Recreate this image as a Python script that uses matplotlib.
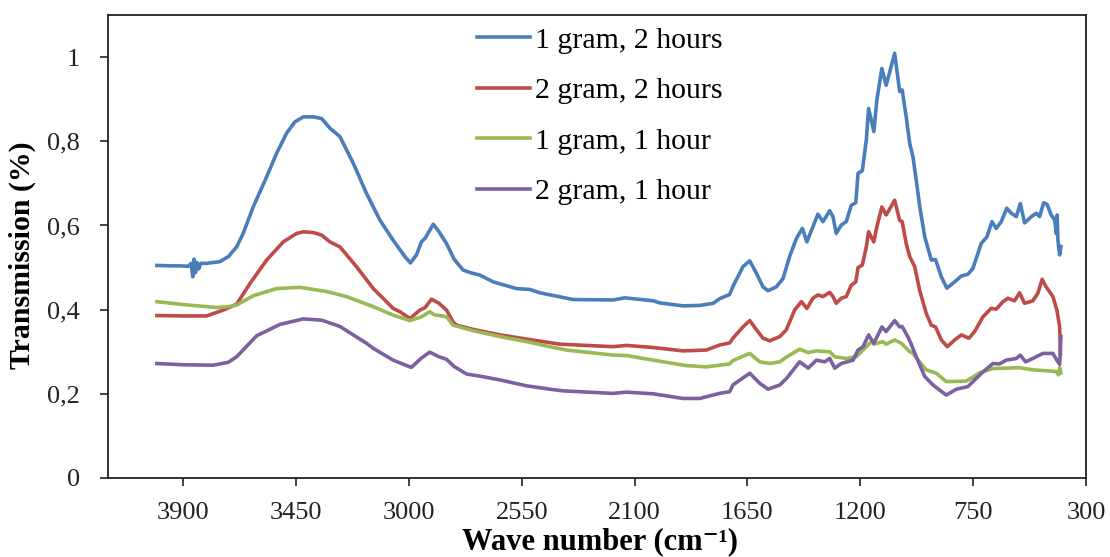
import numpy as np
import matplotlib
matplotlib.use("Agg")
import matplotlib.pyplot as plt
from matplotlib.ticker import FuncFormatter

plt.rcParams['font.family'] = ['Liberation Serif', 'DejaVu Serif']

# FTIR spectra (wave number in cm-1, transmission)
blue_wn = [4005, 3950, 3913, 3880, 3868, 3862, 3857, 3851, 3845, 3838, 3830, 3807, 3754, 3720, 3687,
           3661, 3621, 3567, 3528, 3488, 3455, 3421, 3380, 3348, 3315, 3275, 3222, 3169, 3116, 3063,
           3016, 2994, 2970, 2950, 2935, 2903, 2880, 2850, 2820, 2784, 2750, 2717, 2664, 2571, 2518,
           2478, 2385, 2345, 2186, 2139, 2026, 2000, 1907, 1840, 1787, 1761, 1721, 1708, 1668, 1641,
           1614, 1588, 1568, 1535, 1508, 1482, 1455, 1431, 1413, 1389, 1369, 1349, 1322, 1309, 1296,
           1276, 1256, 1236, 1218, 1209, 1192, 1176, 1167, 1156, 1146, 1134, 1114, 1097, 1081, 1063,
           1043, 1033, 1017, 1003, 990, 977, 963, 943, 917, 900, 877, 855, 824, 797, 771,
           751, 718, 695, 675, 658, 638, 616, 598, 578, 562, 545, 518, 498, 485, 469,
           455, 439, 425, 418, 415, 412, 405, 400]
blue_t = [0.505, 0.504, 0.504, 0.503, 0.510, 0.478, 0.520, 0.488, 0.512, 0.497, 0.510, 0.510, 0.514, 0.526, 0.549,
          0.581, 0.644, 0.716, 0.771, 0.819, 0.846, 0.858, 0.858, 0.854, 0.831, 0.811, 0.748, 0.676, 0.613, 0.565,
          0.526, 0.511, 0.530, 0.561, 0.570, 0.603, 0.585, 0.557, 0.520, 0.494, 0.487, 0.482, 0.466, 0.450, 0.448,
          0.440, 0.429, 0.424, 0.423, 0.428, 0.421, 0.416, 0.409, 0.410, 0.415, 0.426, 0.436, 0.455, 0.502, 0.516,
          0.486, 0.454, 0.445, 0.454, 0.474, 0.526, 0.569, 0.593, 0.561, 0.597, 0.627, 0.609, 0.635, 0.621, 0.581,
          0.601, 0.609, 0.648, 0.654, 0.724, 0.730, 0.803, 0.878, 0.850, 0.823, 0.898, 0.973, 0.933, 0.969, 1.009,
          0.918, 0.922, 0.858, 0.795, 0.763, 0.708, 0.645, 0.573, 0.518, 0.519, 0.478, 0.451, 0.466, 0.480, 0.484,
          0.498, 0.557, 0.573, 0.609, 0.593, 0.609, 0.641, 0.629, 0.621, 0.652, 0.606, 0.621, 0.629, 0.621, 0.654,
          0.650, 0.625, 0.613, 0.580, 0.625, 0.565, 0.530, 0.550]

red_wn = [4005, 3900, 3807, 3740, 3687, 3634, 3567, 3501, 3448, 3421, 3380, 3348, 3315, 3275, 3209,
          3142, 3063, 3036, 2996, 2956, 2935, 2910, 2880, 2850, 2824, 2810, 2744, 2637, 2531, 2398,
          2186, 2133, 2026, 1907, 1814, 1761, 1721, 1708, 1668, 1641, 1614, 1588, 1561, 1521, 1495,
          1462, 1435, 1413, 1389, 1369, 1349, 1322, 1309, 1296, 1276, 1256, 1236, 1218, 1209, 1192,
          1176, 1167, 1146, 1134, 1114, 1097, 1081, 1063, 1043, 1033, 1017, 1003, 983, 963, 937,
          917, 900, 877, 853, 824, 797, 767, 744, 711, 678, 658, 631, 611, 585, 565,
          545, 512, 492, 475, 459, 432, 416, 405, 402]
red_t = [0.386, 0.385, 0.385, 0.399, 0.413, 0.462, 0.518, 0.561, 0.581, 0.585, 0.583, 0.577, 0.561, 0.549, 0.502,
         0.450, 0.403, 0.395, 0.379, 0.399, 0.405, 0.425, 0.415, 0.399, 0.371, 0.363, 0.353, 0.340, 0.330, 0.318,
         0.312, 0.315, 0.310, 0.302, 0.304, 0.316, 0.321, 0.332, 0.359, 0.374, 0.352, 0.332, 0.326, 0.336, 0.352,
         0.399, 0.419, 0.403, 0.427, 0.435, 0.431, 0.441, 0.431, 0.415, 0.427, 0.431, 0.458, 0.466, 0.500, 0.506,
         0.549, 0.585, 0.561, 0.597, 0.644, 0.625, 0.641, 0.660, 0.612, 0.609, 0.557, 0.526, 0.502, 0.445, 0.391,
         0.363, 0.359, 0.328, 0.312, 0.328, 0.340, 0.332, 0.348, 0.383, 0.403, 0.401, 0.419, 0.427, 0.421, 0.440,
         0.415, 0.421, 0.439, 0.472, 0.454, 0.431, 0.399, 0.359, 0.296]

green_wn = [4005, 3900, 3767, 3720, 3687, 3621, 3528, 3435, 3328, 3249, 3142, 3063, 2996, 2950, 2917,
            2900, 2850, 2824, 2744, 2637, 2531, 2438, 2372, 2186, 2133, 2026, 1893, 1814, 1761, 1721,
            1708, 1641, 1601, 1561, 1521, 1495, 1442, 1408, 1375, 1322, 1302, 1256, 1216, 1176, 1156,
            1146, 1110, 1097, 1063, 1036, 1003, 990, 970, 937, 897, 857, 778, 724, 671, 565,
            512, 419, 410, 405, 400]
green_t = [0.419, 0.412, 0.405, 0.407, 0.411, 0.433, 0.450, 0.453, 0.443, 0.431, 0.407, 0.387, 0.374, 0.383, 0.395,
           0.388, 0.383, 0.363, 0.350, 0.336, 0.324, 0.312, 0.304, 0.292, 0.291, 0.280, 0.267, 0.264, 0.268, 0.271,
           0.279, 0.296, 0.276, 0.272, 0.276, 0.287, 0.306, 0.298, 0.302, 0.300, 0.288, 0.284, 0.288, 0.312, 0.324,
           0.318, 0.324, 0.318, 0.328, 0.320, 0.300, 0.296, 0.280, 0.257, 0.249, 0.229, 0.230, 0.250, 0.260, 0.262,
           0.257, 0.253, 0.245, 0.262, 0.250]

purple_wn = [4005, 3900, 3780, 3720, 3687, 3607, 3514, 3421, 3348, 3275, 3169, 3142, 3063, 2996, 2990,
             2950, 2917, 2880, 2850, 2820, 2770, 2717, 2637, 2531, 2438, 2385, 2186, 2133, 2026, 1907,
             1840, 1761, 1721, 1708, 1641, 1601, 1568, 1521, 1495, 1442, 1408, 1375, 1342, 1322, 1302,
             1276, 1229, 1209, 1189, 1167, 1146, 1114, 1097, 1063, 1043, 1033, 1010, 997, 977, 943,
             910, 884, 857, 817, 771, 744, 711, 671, 645, 618, 578, 562, 541, 512, 472,
             432, 412, 405, 400]
purple_t = [0.272, 0.269, 0.268, 0.275, 0.288, 0.338, 0.365, 0.378, 0.375, 0.360, 0.320, 0.308, 0.280, 0.264, 0.263,
            0.285, 0.299, 0.288, 0.282, 0.265, 0.247, 0.242, 0.233, 0.219, 0.211, 0.207, 0.201, 0.204, 0.200, 0.189,
            0.189, 0.201, 0.205, 0.221, 0.249, 0.225, 0.211, 0.221, 0.236, 0.276, 0.261, 0.280, 0.276, 0.284, 0.261,
            0.272, 0.280, 0.304, 0.312, 0.340, 0.320, 0.359, 0.348, 0.374, 0.359, 0.360, 0.335, 0.318, 0.288, 0.241,
            0.221, 0.209, 0.197, 0.211, 0.217, 0.233, 0.252, 0.272, 0.271, 0.280, 0.284, 0.292, 0.276, 0.284, 0.296,
            0.296, 0.276, 0.270, 0.336]

labels = ['1 gram, 2 hours', '2 gram, 2 hours', '1 gram, 1 hour', '2 gram, 1 hour']
colors = ['#4A7EBB', '#BE4B48', '#98B954', '#7D60A0']
x_ticks = [3900, 3450, 3000, 2550, 2100, 1650, 1200, 750, 300]
y_ticks = [0, 0.2, 0.4, 0.6, 0.8, 1.0]

W, H = 1110, 557
fig = plt.figure(figsize=(W / 100, H / 100), dpi=100)
ax = fig.add_axes([108 / W, (H - 478) / H, (1086 - 108) / W, (478 - 15) / H])

series = [(blue_wn, blue_t), (red_wn, red_t), (green_wn, green_t), (purple_wn, purple_t)]
for (wn, t), lab, c in zip(series, labels, colors):
    ax.plot(wn, t, color=c, lw=2.6, label=lab, solid_joinstyle='round')

ax.set_xlim(4200, 300)
ax.set_ylim(0, 1.1)
ax.set_xticks(x_ticks)
ax.set_yticks(y_ticks)
ax.yaxis.set_major_formatter(FuncFormatter(lambda v, p: f'{v:g}'.replace('.', ',')))
ax.tick_params(axis='both', direction='out', length=6, width=1.2, labelsize=19, colors='#222222')
ax.tick_params(axis='y', pad=14)
ax.tick_params(axis='x', pad=11)
for s in ax.spines.values():
    s.set_linewidth(1.3)
    s.set_color('#222222')

fig.text(22 / W, 1 - 255 / H, 'Transmission (%)', rotation=90, ha='center', va='center',
         fontsize=21.5, fontweight='bold')
fig.text(600 / W, 1 - 549 / H, 'Wave number (cm\u207b\u00b9)', ha='center', va='baseline',
         fontsize=22, fontweight='bold')

fig.legend(loc='upper left', bbox_to_anchor=(477 / W, 1 - 27 / H), frameon=False, fontsize=21.5,
           handlelength=1.77, handletextpad=0.17, labelspacing=0.79, borderpad=0, borderaxespad=0)

fig.savefig('out.png', dpi=100)
